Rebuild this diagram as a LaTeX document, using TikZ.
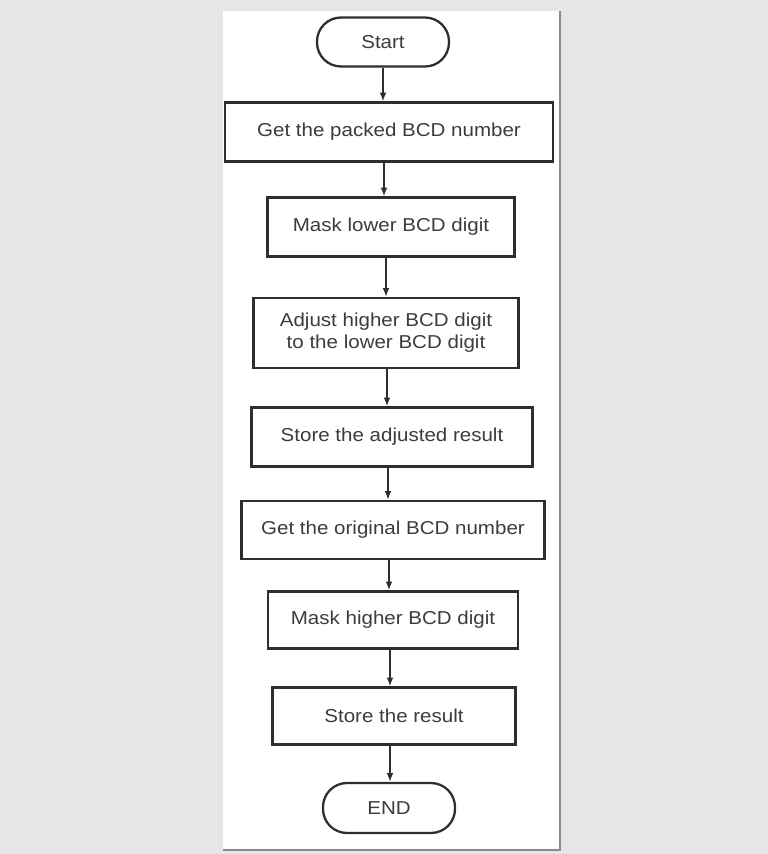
\documentclass[tikz,border=0pt]{standalone}
\usepackage{fontspec}
\setmainfont[FakeStretch=1.1]{Liberation Sans}
\usetikzlibrary{arrows.meta}
\definecolor{pagegray}{HTML}{E6E6E6}
\definecolor{edgegray}{HTML}{8A8A8A}
\definecolor{inkline}{HTML}{2E2E2E}
\definecolor{inktext}{HTML}{3C3C3C}
\begin{document}
\begin{tikzpicture}[x=0.75pt,y=-0.75pt,
  every node/.style={font=\fontsize{14}{16.5}\selectfont, text=inktext, align=center, inner sep=0pt},
  procbox/.style={draw=inkline, line width=1.7pt, fill=white, rectangle},
  termbox/.style={draw=inkline, line width=1.7pt, fill=white, rectangle, rounded corners=18pt},
  arr/.style={draw=inkline, line width=1.2pt, -{Latex[length=6.5pt,width=5pt]}}
]
  % page background and white sheet
  \fill[pagegray] (0,0) rectangle (768,854);
  \fill[white] (223,11) rectangle (560,850);
  \draw[edgegray, line width=1.6pt] (560,11) -- (560,850) -- (223,850);
  \useasboundingbox (0,0) rectangle (768,854);

  % flowchart steps
  \node[termbox, minimum width=132*0.75pt, minimum height=49*0.75pt] (start) at (383,42) {Start};
  \node[procbox, minimum width=328*0.75pt, minimum height=59*0.75pt] (get) at (389,132) {Get the packed BCD number};
  \node[procbox, minimum width=247*0.75pt, minimum height=59*0.75pt] (masklo) at (391,227) {Mask lower BCD digit};
  \node[procbox, minimum width=265*0.75pt, minimum height=70*0.75pt] (adjust) at (386,333) {Adjust higher BCD digit\\to the lower BCD digit};
  \node[procbox, minimum width=281*0.75pt, minimum height=59*0.75pt] (storeadj) at (392,437) {Store the adjusted result};
  \node[procbox, minimum width=303*0.75pt, minimum height=58*0.75pt] (getorig) at (393,530) {Get the original BCD number};
  \node[procbox, minimum width=250*0.75pt, minimum height=57*0.75pt] (maskhi) at (393,620) {Mask higher BCD digit};
  \node[procbox, minimum width=243*0.75pt, minimum height=57*0.75pt] (store) at (394,716) {Store the result};
  \node[termbox, minimum width=132*0.75pt, minimum height=50*0.75pt] (stop) at (389,808) {END};

  % x positions of the connecting arrows
  \coordinate (c1) at (383,0);
  \coordinate (c2) at (384,0);
  \coordinate (c3) at (386,0);
  \coordinate (c4) at (387,0);
  \coordinate (c5) at (388,0);
  \coordinate (c6) at (389,0);
  \coordinate (c7) at (390,0);
  \coordinate (c8) at (390,0);

  \draw[arr] (start.south -| c1) -- (get.north -| c1);
  \draw[arr] (get.south -| c2) -- (masklo.north -| c2);
  \draw[arr] (masklo.south -| c3) -- (adjust.north -| c3);
  \draw[arr] (adjust.south -| c4) -- (storeadj.north -| c4);
  \draw[arr] (storeadj.south -| c5) -- (getorig.north -| c5);
  \draw[arr] (getorig.south -| c6) -- (maskhi.north -| c6);
  \draw[arr] (maskhi.south -| c7) -- (store.north -| c7);
  \draw[arr] (store.south -| c8) -- (stop.north -| c8);
\end{tikzpicture}
\end{document}
